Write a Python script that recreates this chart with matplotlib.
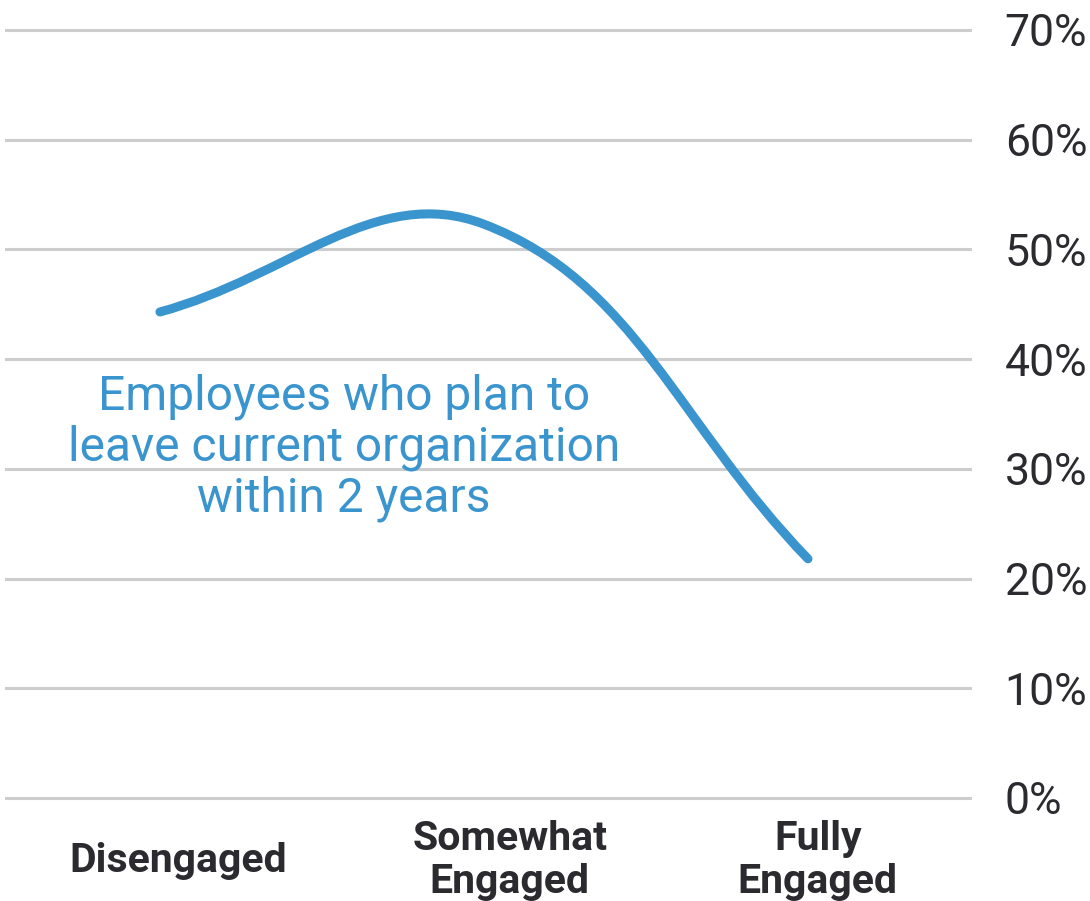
import matplotlib
matplotlib.use("Agg")
import matplotlib.pyplot as plt
import numpy as np
from matplotlib.path import Path
from matplotlib.patches import PathPatch

# engagement level vs. share planning to leave (%)
categories = ["Disengaged", "Somewhat\nEngaged", "Fully\nEngaged"]
leave_pct = [44.3, 52.3, 21.8]
y_ticks = [0, 10, 20, 30, 40, 50, 60, 70]
series_note = "Employees who plan to\nleave current organization\nwithin 2 years"

BLUE = "#3a94cd"
INK = "#2a2a2f"
GRID = "#cdcdcd"

plt.rcParams["font.family"] = ["Roboto", "DejaVu Sans"]


def spline_path(ax, xs, ys, tension=0.4):
    """Cubic bezier through the points, control points built in pixel space."""
    pts = ax.transData.transform(np.column_stack([xs, ys]))
    n = len(pts)
    ctrl = []
    for i in range(n):
        prev, cur, nxt = pts[max(i - 1, 0)], pts[i], pts[min(i + 1, n - 1)]
        d01 = np.hypot(*(cur - prev))
        d12 = np.hypot(*(nxt - cur))
        tot = d01 + d12
        s01 = d01 / tot if tot else 0.0
        s12 = d12 / tot if tot else 0.0
        ctrl.append((cur - tension * s01 * (nxt - prev),
                     cur + tension * s12 * (nxt - prev)))
    verts = [pts[0]]
    codes = [Path.MOVETO]
    for i in range(n - 1):
        verts += [ctrl[i][1], ctrl[i + 1][0], pts[i + 1]]
        codes += [Path.CURVE4] * 3
    verts = ax.transData.inverted().transform(np.array(verts))
    return Path(verts, codes)


fig = plt.figure(figsize=(10.9, 9.01), dpi=100)
ax = fig.add_axes([6 / 1090, 103 / 901, 964 / 1090, 768 / 901])
ax.set_xlim(-0.475, 2.5)
ax.set_ylim(0, 70)

x = np.arange(len(categories))
line = PathPatch(spline_path(ax, x, leave_pct), fill=False,
                 edgecolor=BLUE, lw=6.5, zorder=3)
line.set_capstyle("round")
line.set_joinstyle("round")
ax.add_patch(line)

ax.text(0.568, 31.9, series_note, ha="center", va="center",
        fontsize=34.5, color=BLUE, linespacing=1.13)

# y axis on the right, grid only
ax.yaxis.tick_right()
ax.set_yticks(y_ticks)
ax.set_yticklabels([f"{v}%" for v in y_ticks])
ax.tick_params(axis="y", length=0, pad=25, labelsize=32, labelcolor=INK)
ax.grid(axis="y", color=GRID, lw=2.2)
for gl in ax.get_ygridlines():
    gl.set_clip_on(False)

label_shift = [0.056, 0.08, 0.03]
ax.set_xticks(x + np.array(label_shift))
ax.set_xticklabels(categories)
ax.tick_params(axis="x", length=0, pad=45, labelsize=29.5, labelcolor=INK)
for lbl in ax.get_xticklabels():
    lbl.set_fontweight("bold")
    lbl.set_verticalalignment("center")
    lbl.set_linespacing(1.15)

for s in ax.spines.values():
    s.set_visible(False)

fig.savefig("out.png", dpi=100, facecolor="white")
